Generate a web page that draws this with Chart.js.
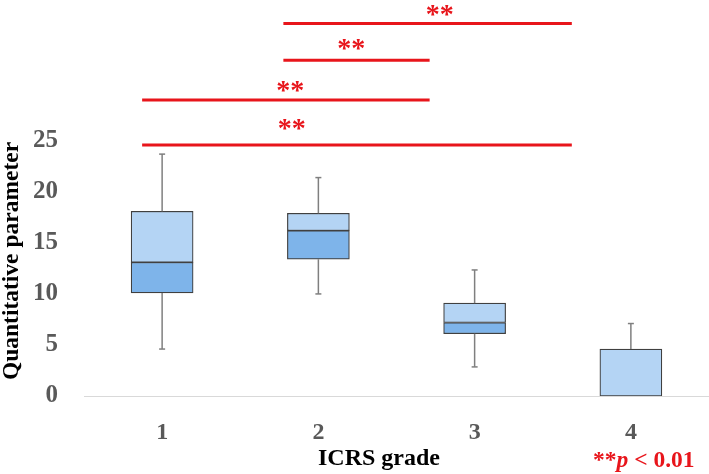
<!DOCTYPE html>
<html><head><meta charset="utf-8">
<script src="https://cdn.jsdelivr.net/npm/chart.js@4"></script>
<style>html,body{margin:0;padding:0;background:#fff}#wrap{width:709px;height:474px;position:relative}</style>
</head><body><div id="wrap"><canvas id="c"></canvas></div>
<script>
const categories = ['1', '2', '3', '4'];
const whiskerMin = [4.6, 10.0, 2.85, 0];
const q1 = [10.1, 13.4, 6.1, 0];
const median = [13.1, 16.2, 7.2, 0];
const q3 = [18.1, 17.9, 9.1, 4.6];
const whiskerMax = [23.7, 21.4, 12.35, 7.1];
const yTicks = [0, 5, 10, 15, 20, 25];
// significance brackets (x in ICRS grade units)
const sigStart = [0.872, 0.872, 1.776, 1.776];
const sigEnd = [3.622, 2.712, 2.712, 3.622];
const sigY = [24.6, 29.0, 32.9, 36.5];
const sigLabelX = [1.83, 1.82, 2.21, 2.776];
const sigLabelY = [26.6, 30.3, 34.4, 37.8];
const sigLabel = ['**', '**', '**', '**'];
const xTitle = 'ICRS grade';
const yTitle = 'Quantitative parameter';
const noteStars = '**';
const noteP = 'p';
const noteRest = ' < 0.01';

const RED = '#E8151B';
const SERIF = "'Liberation Serif', 'Times New Roman', serif";

const overlay = {
  id: 'overlay',
  afterDatasetsDraw(chart) {
    const ctx = chart.ctx, xs = chart.scales.x, ys = chart.scales.y;
    ctx.save();
    ctx.strokeStyle = '#7F7F7F';
    ctx.lineWidth = 1.5;
    categories.forEach((c, i) => {
      const x = xs.getPixelForValue(i);
      const segs = [[q3[i], whiskerMax[i]], [whiskerMin[i], q1[i]]];
      segs.forEach(([a, b]) => {
        if (a === b) return;
        ctx.beginPath();
        ctx.moveTo(x, ys.getPixelForValue(a));
        ctx.lineTo(x, ys.getPixelForValue(b));
        ctx.stroke();
      });
      [whiskerMax[i], whiskerMin[i]].forEach((v, k) => {
        if ((k === 0 && v === q3[i]) || (k === 1 && v === q1[i])) return;
        const y = ys.getPixelForValue(v);
        ctx.beginPath();
        ctx.moveTo(x - 3, y);
        ctx.lineTo(x + 3, y);
        ctx.stroke();
      });
    });
    ctx.restore();
  },
  afterDraw(chart) {
    const ctx = chart.ctx, xs = chart.scales.x, ys = chart.scales.y;
    ctx.save();
    // significance brackets
    ctx.strokeStyle = RED;
    ctx.lineWidth = 3;
    sigY.forEach((v, i) => {
      const y = ys.getPixelForValue(v);
      ctx.beginPath();
      ctx.moveTo(xs.getPixelForValue(sigStart[i] - 1), y);
      ctx.lineTo(xs.getPixelForValue(sigEnd[i] - 1), y);
      ctx.stroke();
    });
    ctx.fillStyle = RED;
    ctx.font = 'bold 28px ' + SERIF;
    ctx.textAlign = 'center';
    ctx.textBaseline = 'alphabetic';
    sigLabel.forEach((t, i) => {
      const m = ctx.measureText(t);
      const cy = ys.getPixelForValue(sigLabelY[i]);
      const y = cy + (m.actualBoundingBoxAscent - m.actualBoundingBoxDescent) / 2;
      ctx.fillText(t, xs.getPixelForValue(sigLabelX[i] - 1), y);
    });
    // p-value note
    ctx.textAlign = 'left';
    const base = 467;
    let x = 593;
    ctx.font = 'bold 23.5px ' + SERIF;
    ctx.fillText(noteStars, x, base);
    x += ctx.measureText(noteStars).width;
    ctx.font = 'italic bold 23.5px ' + SERIF;
    ctx.fillText(noteP, x, base);
    x += ctx.measureText(noteP).width;
    ctx.font = 'bold 23.5px ' + SERIF;
    ctx.fillText(noteRest, x, base);
    // axis titles
    ctx.fillStyle = '#000';
    ctx.textAlign = 'center';
    ctx.textBaseline = 'middle';
    ctx.font = 'bold 24px ' + SERIF;
    ctx.fillText(xTitle, 379, 459);
    ctx.translate(12, 261);
    ctx.rotate(-Math.PI / 2);
    ctx.font = 'bold 23.5px ' + SERIF;
    ctx.fillText(yTitle, 0, 0);
    ctx.restore();
  }
};

new Chart(document.getElementById('c'), {
  type: 'bar',
  data: {
    labels: categories,
    datasets: [
      {
        label: 'Q1-median',
        data: q1.map((v, i) => v === median[i] ? null : [v, median[i]]),
        backgroundColor: '#7EB4EA',
        borderColor: '#404040',
        borderWidth: 1.2,
        borderSkipped: false,
        grouped: false,
        barThickness: 62
      },
      {
        label: 'median-Q3',
        data: median.map((v, i) => [v, q3[i]]),
        backgroundColor: '#B4D4F4',
        borderColor: '#404040',
        borderWidth: 1.2,
        borderSkipped: false,
        grouped: false,
        barThickness: 62
      }
    ]
  },
  options: {
    responsive: true,
    maintainAspectRatio: false,
    animation: false,
    layout: { padding: 0 },
    plugins: { legend: { display: false }, tooltip: { enabled: false } },
    scales: {
      x: {
        grid: { display: false, drawTicks: false },
        border: { display: true, color: '#D9D9D9', width: 1 },
        ticks: { color: '#595959', font: { family: SERIF, size: 24, weight: 'bold' }, padding: 22 },
        title: { display: false, text: xTitle },
        afterFit(scale) { scale.height = 78; scale.paddingLeft = 0; scale.paddingRight = 0; }
      },
      y: {
        min: 0,
        max: 38.8,
        grid: { display: false, drawTicks: false },
        border: { display: false },
        afterBuildTicks(scale) { scale.ticks = yTicks.map(v => ({ value: v })); },
        ticks: { color: '#595959', font: { family: SERIF, size: 25, weight: 'bold' }, padding: 26 },
        title: { display: false, text: yTitle },
        afterFit(scale) { scale.width = 84; scale.paddingTop = 0; scale.paddingBottom = 0; }
      }
    }
  },
  plugins: [overlay]
});
</script>
</body></html>
